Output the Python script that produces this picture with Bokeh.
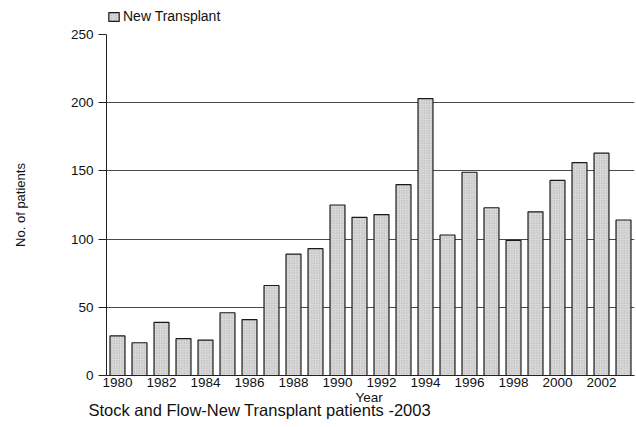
from bokeh.plotting import figure
from bokeh.layouts import column
from bokeh.models import Legend, LegendItem, Title, FixedTicker, Range1d
from bokeh.embed import file_html
from bokeh.resources import INLINE

years = list(range(1980, 2004))
new_transplant = [29, 24, 39, 27, 26, 46, 41, 66, 89, 93, 125, 116, 118, 140,
                  203, 103, 149, 123, 99, 120, 143, 156, 163, 114]
year_ticks = list(range(1980, 2003, 2))
y_ticks = [0, 50, 100, 150, 200, 250]
series_name = "New Transplant"
title_text = "Stock and Flow-New Transplant patients -2003"
x_label = "Year"
y_label = "No. of patients"

FONT = "Liberation Sans"
W = 636
LEG_H = 24
H = 427 - LEG_H
TOP, BOTTOM, LEFT, RIGHT = 10, 52, 106, 2

BAR_STYLE = dict(fill_color="#dadada", line_color="#1a1a1a", line_width=1.2,
                 hatch_pattern="dot", hatch_color="#a8a8a8", hatch_scale=2.5,
                 hatch_weight=0.8)

# ---- legend strip (its bars lie below its visible range; only the legend shows) ----
lf = figure(width=W, height=LEG_H, output_backend="svg", toolbar_location=None,
            x_range=Range1d(1979.5, 2003.5), y_range=Range1d(300, 301),
            min_border_left=LEFT, min_border_right=RIGHT, min_border_top=7,
            min_border_bottom=0)
lf.axis.visible = False
lf.grid.visible = False
lf.outline_line_color = None
lf.border_fill_color = "white"
lf.background_fill_color = "white"
lr = lf.vbar(x=years, top=new_transplant, width=0.68, **BAR_STYLE)
legend = Legend(items=[LegendItem(label=series_name, renderers=[lr])],
                location="top_left", padding=0, margin=1, spacing=0,
                glyph_width=13, glyph_height=11, label_standoff=3, label_height=11,
                border_line_color=None, background_fill_alpha=0,
                label_text_font=FONT, label_text_font_size="14px",
                label_text_color="#111111", label_text_baseline="middle")
lf.add_layout(legend)

# ---- main chart ----
p = figure(width=W, height=H, output_backend="svg", toolbar_location=None,
           x_range=Range1d(1979.5, 2003.5), y_range=Range1d(0, 250),
           min_border_left=LEFT, min_border_right=RIGHT, min_border_top=TOP,
           min_border_bottom=BOTTOM)
p.outline_line_color = None
p.background_fill_color = "white"
p.border_fill_color = "white"

p.vbar(x=years, top=new_transplant, width=0.68, bottom=0, **BAR_STYLE)

p.xgrid.visible = False
p.ygrid.ticker = FixedTicker(ticks=y_ticks)
p.ygrid.grid_line_color = "#4a4a4a"
p.ygrid.grid_line_width = 1

# y axis
p.yaxis.ticker = FixedTicker(ticks=y_ticks)
p.yaxis.axis_line_color = "#222222"
p.yaxis.major_tick_line_color = "#222222"
p.yaxis.major_tick_out = 8
p.yaxis.major_tick_in = 0
p.yaxis.minor_tick_line_color = None
p.yaxis.major_label_standoff = 5
p.yaxis.major_label_text_font = FONT
p.yaxis.major_label_text_font_size = "13.5px"
p.yaxis.major_label_text_color = "#111111"
p.yaxis.axis_label = y_label
p.yaxis.axis_label_text_font = FONT
p.yaxis.axis_label_text_font_size = "13px"
p.yaxis.axis_label_text_font_style = "normal"
p.yaxis.axis_label_text_color = "#111111"
p.yaxis.axis_label_standoff = 40

# x axis
p.xaxis.ticker = FixedTicker(ticks=year_ticks)
p.xaxis.axis_line_color = "#222222"
p.xaxis.major_tick_line_color = None
p.xaxis.major_tick_out = 0
p.xaxis.major_tick_in = 0
p.xaxis.minor_tick_line_color = None
p.xaxis.major_label_standoff = 2
p.xaxis.major_label_text_font = FONT
p.xaxis.major_label_text_font_size = "13.5px"
p.xaxis.major_label_text_color = "#111111"

# "Year" label and bottom title (as titles in the below panel)
p.add_layout(Title(text=x_label, align="left", offset=249, standoff=-4,
                   text_font=FONT, text_font_size="13.5px", text_font_style="normal",
                   text_color="#111111"), "below")
p.add_layout(Title(text=title_text, align="left", offset=-18, standoff=-8,
                   text_font=FONT, text_font_size="16.5px", text_font_style="normal",
                   text_color="#111111"), "below")

layout = column(lf, p, spacing=0)
open("out.html", "w").write(file_html(layout, INLINE))
